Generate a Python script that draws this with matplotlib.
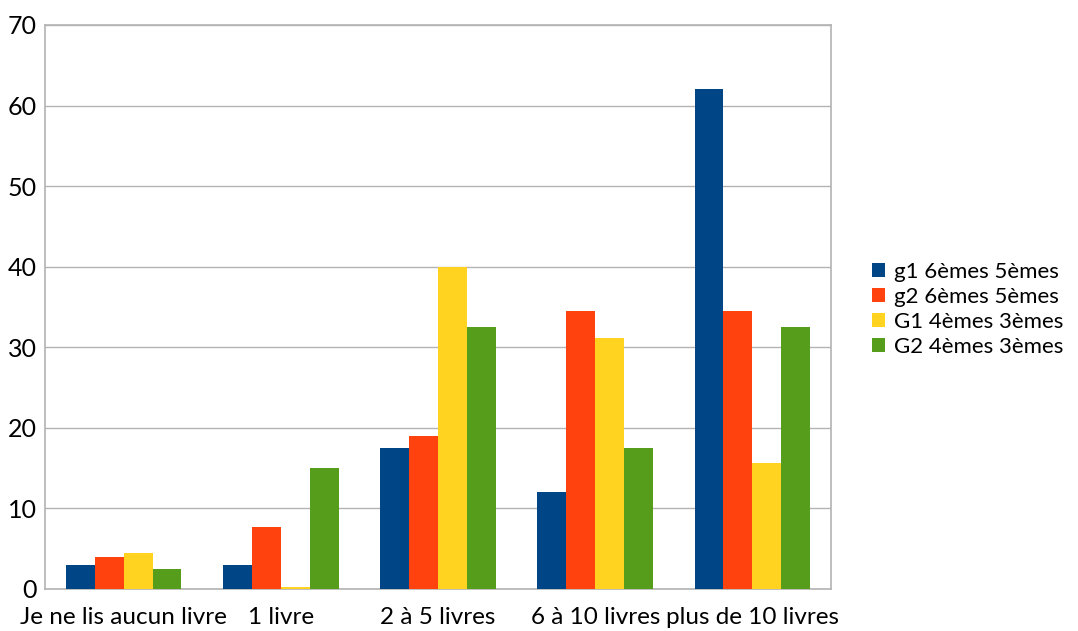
import numpy as np
import matplotlib
matplotlib.use('Agg')
import matplotlib.pyplot as plt

plt.rcParams['font.family'] = ['Lato', 'DejaVu Sans']

categories = ['Je ne lis aucun livre', '1 livre', '2 à 5 livres', '6 à 10 livres', 'plus de 10 livres']
series_names = ['g1 6èmes 5èmes', 'g2 6èmes 5èmes', 'G1 4èmes 3èmes', 'G2 4èmes 3èmes']
g1 = [3, 3, 17.5, 12, 62]
g2 = [4, 7.7, 19, 34.5, 34.5]
G1 = [4.5, 0.2, 40, 31.2, 15.6]
G2 = [2.5, 15, 32.5, 17.5, 32.5]
colors = ['#004586', '#ff420e', '#ffd320', '#579d1c']

fig = plt.figure(figsize=(10.78, 6.31), dpi=100)
ax = fig.add_axes([45/1078, 1-589/631, (831-45)/1078, (589-25)/631])

x = np.arange(len(categories))
w = 0.184
for i, (vals, name) in enumerate(zip([g1, g2, G1, G2], series_names)):
    ax.bar(x + (i - 1.5)*w, vals, width=w, color=colors[i], label=name, zorder=3)

ax.set_xlim(-0.5, 4.5)
ax.set_ylim(0, 70)
ax.set_yticks(range(0, 71, 10))
ax.set_xticks(x)
ax.set_xticklabels(categories)
ax.yaxis.grid(True, color='#b3b3b3', linewidth=1, zorder=0)
for s in ax.spines.values():
    s.set_color('#b3b3b3')
    s.set_linewidth(1.2)
ax.tick_params(length=0, colors='black')
ax.tick_params(axis='x', labelsize=17.5, pad=13)
ax.tick_params(axis='y', labelsize=18, pad=6)

fig.legend(loc='center left', bbox_to_anchor=(0.79, 0.51), frameon=False,
           fontsize=16, handlelength=0.6, handleheight=0.6, handletextpad=0.4,
           labelspacing=0.22)

fig.savefig('out.png', dpi=100)
